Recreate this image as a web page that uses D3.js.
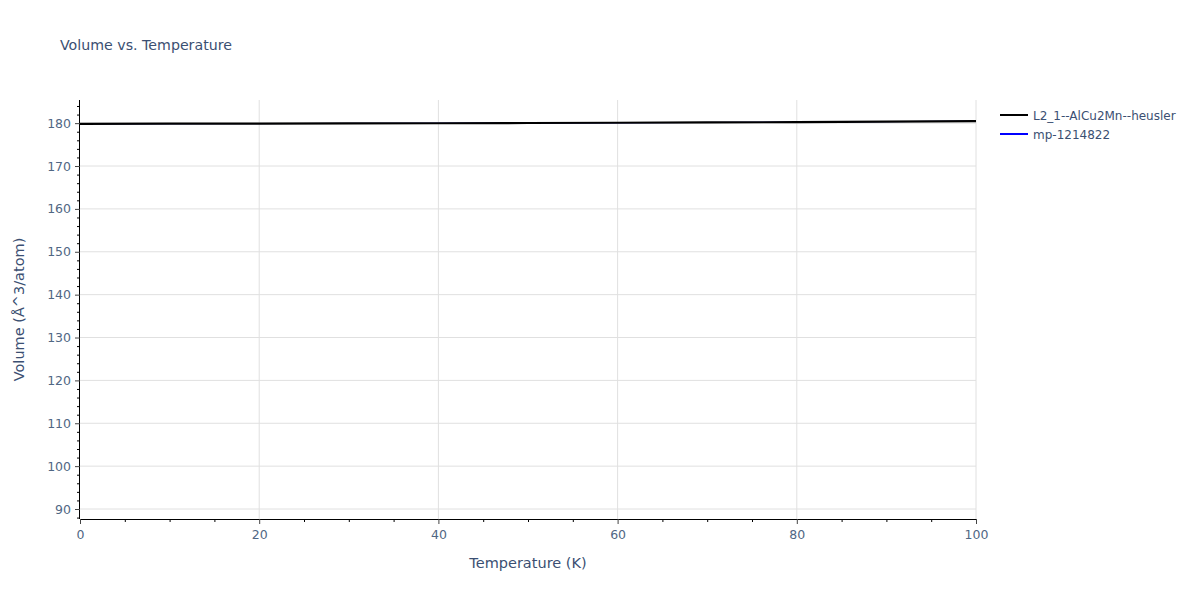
<!DOCTYPE html>
<html><head><meta charset="utf-8">
<script src="https://cdn.jsdelivr.net/npm/d3@7"></script>
<style>body{margin:0;background:#fff;} text{font-family:"DejaVu Sans",Verdana,Arial,sans-serif;}</style>
</head><body><svg id="c" width="1200" height="600"></svg>
<script>
const temps = [0,10,20,30,40,50,60,70,80,90,100];
const volHeusler = [179.85,179.87,179.90,179.94,179.98,180.03,180.09,180.16,180.24,180.35,180.47];
const volMp = [179.85,179.87,179.90,179.94,179.98,180.03,180.09,180.16,180.24,180.35,180.47];
const seriesNames = ["L2_1--AlCu2Mn--heusler","mp-1214822"];
const xTicks = [0,20,40,60,80,100];
const yTicks = [90,100,110,120,130,140,150,160,170,180];

const svg = d3.select("#c");
const L=80,R=976,T=100,B=519;
const x = d3.scaleLinear().domain([0,100]).range([L,R]);
const y = d3.scaleLinear().domain([87.67,185.4]).range([B,T]);
const txt="#3b4f72";
const tickTxt="#506784";

// grid
svg.append("g").selectAll("line").data(xTicks.slice(1)).join("line")
  .attr("x1",d=>x(d)).attr("x2",d=>x(d)).attr("y1",T).attr("y2",B).attr("stroke","#e0e0e0");
svg.append("g").selectAll("line").data(yTicks).join("line")
  .attr("x1",L).attr("x2",R).attr("y1",d=>y(d)).attr("y2",d=>y(d)).attr("stroke","#e0e0e0");

// minor ticks
const xMinor = d3.range(0,101,5).filter(d=>d%20!==0);
svg.append("g").attr("transform",`translate(0,${B})`).call(d3.axisBottom(x).tickValues(xMinor).tickSize(3).tickFormat(""))
  .call(g=>g.select(".domain").remove()).selectAll("line").attr("stroke","#000");
const yMinor = d3.range(88,186,2).filter(d=>d%10!==0);
svg.append("g").attr("transform",`translate(${L},0)`).call(d3.axisLeft(y).tickValues(yMinor).tickSize(3).tickFormat(""))
  .call(g=>g.select(".domain").remove()).selectAll("line").attr("stroke","#000");

// major axes
const xa = svg.append("g").attr("transform",`translate(0,${B})`)
  .call(d3.axisBottom(x).tickValues(xTicks).tickSize(5).tickPadding(6));
xa.select(".domain").attr("stroke","#000").attr("d",`M${L},0.5H${R}`);
xa.selectAll("line").attr("stroke","#444");
xa.selectAll("text").attr("fill",tickTxt).attr("font-size",12.5);
const ya = svg.append("g").attr("transform",`translate(${L},0)`)
  .call(d3.axisLeft(y).tickValues(yTicks).tickSize(5).tickPadding(4));
ya.select(".domain").attr("stroke","#000").attr("d",`M-0.5,${B}V${T}`);
ya.selectAll("line").attr("stroke","#444");
ya.selectAll("text").attr("fill",tickTxt).attr("font-size",12.5);

// lines
const line = d3.line().x((d,i)=>x(temps[i])).y(d=>y(d));
svg.append("path").datum(volMp).attr("d",line).attr("fill","none").attr("stroke","#0000ff").attr("stroke-width",1);
svg.append("path").datum(volHeusler).attr("d",line).attr("fill","none").attr("stroke","#000").attr("stroke-width",2.2);

// titles
svg.append("text").attr("x",60).attr("y",50).attr("fill",txt).attr("font-size",14.2).text("Volume vs. Temperature");
svg.append("text").attr("x",(L+R)/2).attr("y",568).attr("text-anchor","middle").attr("fill",txt).attr("font-size",14.5).text("Temperature (K)");
svg.append("text").attr("transform",`translate(24,${(T+B)/2}) rotate(-90)`).attr("text-anchor","middle").attr("fill",txt).attr("font-size",14.5).text("Volume (Å^3/atom)");

// legend
const colors=["#000","#0000ff"];
seriesNames.forEach((n,i)=>{
  const ly=115+i*19;
  svg.append("line").attr("x1",1000).attr("x2",1028).attr("y1",ly).attr("y2",ly).attr("stroke",colors[i]).attr("stroke-width",2);
  svg.append("text").attr("x",1033).attr("y",ly+4.5).attr("fill",txt).attr("font-size",12).text(n);
});
</script></body></html>
